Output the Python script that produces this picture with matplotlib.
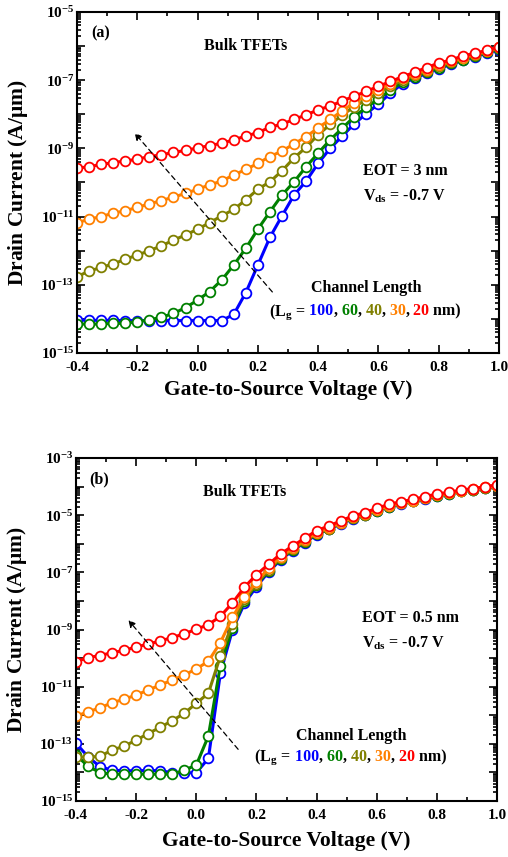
import numpy as np
import matplotlib
matplotlib.use('Agg')
import matplotlib.pyplot as plt
from matplotlib import ticker, transforms

# Fonts: bold Times-like everywhere
plt.rcParams['font.family'] = 'Liberation Serif'
plt.rcParams['font.weight'] = 'bold'
plt.rcParams['axes.labelweight'] = 'bold'
plt.rcParams['mathtext.fontset'] = 'custom'
plt.rcParams['mathtext.rm'] = 'Liberation Serif:bold'
plt.rcParams['mathtext.bf'] = 'Liberation Serif:bold'
plt.rcParams['mathtext.it'] = 'Liberation Serif:bold:italic'
plt.rcParams['axes.linewidth'] = 1.5

# Step 1: data (log10 of drain current in A/um), Vgs sweep -0.4 .. 1.0 V
vgs = np.linspace(-0.4, 1.0, 36)
lengths = ['100', '60', '40', '30', '20']
colors = ['#0000FF', '#008000', '#808000', '#FF8000', '#FF0000']

# (a) EOT = 3 nm
a_100 = [-14.03, -14.04, -14.04, -14.04, -14.05, -14.05, -14.05, -14.05, -14.05, -14.05,
         -14.05, -14.05, -14.05, -13.87, -13.23, -12.42, -11.61, -10.98, -10.37, -9.96,
         -9.44, -9.00, -8.64, -8.28, -7.98, -7.70, -7.38, -7.10, -6.94, -6.80,
         -6.66, -6.54, -6.42, -6.31, -6.20, -6.11]
a_60 = [-14.15, -14.15, -14.15, -14.13, -14.13, -14.08, -14.03, -13.95, -13.84, -13.67,
        -13.45, -13.20, -12.86, -12.42, -11.93, -11.37, -10.86, -10.37, -9.98, -9.54,
        -9.14, -8.75, -8.41, -8.07, -7.80, -7.55, -7.30, -7.05, -6.90, -6.76,
        -6.63, -6.51, -6.40, -6.29, -6.18, -6.08]
a_40 = [-12.76, -12.60, -12.49, -12.39, -12.25, -12.13, -12.00, -11.86, -11.69, -11.54,
        -11.37, -11.18, -10.98, -10.79, -10.51, -10.20, -9.98, -9.66, -9.28, -8.97,
        -8.60, -8.30, -8.02, -7.78, -7.57, -7.38, -7.18, -7.00, -6.86, -6.72,
        -6.59, -6.47, -6.36, -6.26, -6.16, -6.06]
a_30 = [-11.18, -11.08, -11.00, -10.90, -10.83, -10.73, -10.63, -10.53, -10.43, -10.32,
        -10.20, -10.07, -9.96, -9.78, -9.62, -9.44, -9.24, -9.08, -8.87, -8.66,
        -8.40, -8.15, -7.90, -7.66, -7.46, -7.28, -7.11, -6.95, -6.82, -6.69,
        -6.56, -6.45, -6.34, -6.24, -6.14, -6.04]
a_20 = [-9.58, -9.54, -9.47, -9.42, -9.37, -9.32, -9.24, -9.19, -9.12, -9.06,
        -8.99, -8.92, -8.85, -8.75, -8.64, -8.54, -8.38, -8.29, -8.15, -8.02,
        -7.87, -7.76, -7.61, -7.47, -7.33, -7.18, -7.04, -6.90, -6.77, -6.63,
        -6.50, -6.41, -6.29, -6.21, -6.13, -6.02]

# (b) EOT = 0.5 nm
b_100 = [-12.98, -13.45, -13.80, -13.92, -13.94, -13.94, -13.93, -13.94, -14.01, -14.01,
         -14.01, -13.51, -10.53, -9.02, -8.09, -7.50, -6.99, -6.56, -6.24, -5.96,
         -5.68, -5.50, -5.30, -5.12, -5.00, -4.85, -4.71, -4.60, -4.52, -4.42,
         -4.33, -4.25, -4.17, -4.12, -4.05, -3.99]
b_60 = [-13.39, -13.78, -14.01, -14.06, -14.06, -14.06, -14.06, -14.06, -14.06, -13.92,
        -13.74, -12.73, -10.26, -8.96, -8.00, -7.44, -6.95, -6.53, -6.22, -5.94,
        -5.66, -5.48, -5.29, -5.11, -4.99, -4.84, -4.70, -4.59, -4.51, -4.41,
        -4.32, -4.25, -4.17, -4.11, -4.04, -3.98]
b_40 = [-13.45, -13.47, -13.43, -13.22, -13.08, -12.87, -12.64, -12.42, -12.19, -11.93,
        -11.58, -11.23, -9.93, -8.79, -7.95, -7.40, -6.92, -6.50, -6.20, -5.92,
        -5.64, -5.47, -5.28, -5.10, -4.98, -4.83, -4.69, -4.58, -4.50, -4.40,
        -4.31, -4.24, -4.16, -4.11, -4.04, -3.98]
b_30 = [-12.03, -11.88, -11.74, -11.56, -11.44, -11.29, -11.12, -10.94, -10.77, -10.59,
        -10.38, -10.11, -9.46, -8.57, -7.87, -7.33, -6.86, -6.45, -6.16, -5.88,
        -5.61, -5.44, -5.26, -5.08, -4.96, -4.81, -4.67, -4.57, -4.49, -4.39,
        -4.30, -4.23, -4.15, -4.10, -4.03, -3.97]
b_20 = [-10.13, -9.98, -9.91, -9.81, -9.73, -9.61, -9.51, -9.40, -9.28, -9.15,
        -8.99, -8.83, -8.54, -8.07, -7.52, -7.08, -6.72, -6.36, -6.08, -5.81,
        -5.54, -5.38, -5.20, -5.03, -4.91, -4.76, -4.62, -4.53, -4.45, -4.35,
        -4.26, -4.20, -4.12, -4.07, -4.00, -3.94]


def color_text(ax, x, y, parts, size):
    # draw pieces of text one after another, each in its own colour
    fig = ax.figure
    r = fig.canvas.get_renderer()
    t = ax.transAxes
    for s, c in parts:
        txt = ax.text(x, y, s, color=c, transform=t, fontsize=size, va='baseline')
        txt.draw(r)
        w = txt.get_window_extent(r).width
        t = transforms.offset_copy(txt.get_transform(), x=w, units='dots')


def sci_label(v, pos):
    e = int(round(np.log10(v)))
    if e % 2 == 0:
        return ''
    return r'$\mathbf{10^{%d}}$' % e


def setup_panel(ax, ytop, tag, eot, arrow, legend_x, legend_y, chan_x, xlab_y):
    ax.set_yscale('log')
    ax.set_xlim(-0.4, 1.0)
    ax.set_ylim(1e-15, ytop)
    ax.xaxis.set_major_locator(ticker.MultipleLocator(0.2))
    ax.xaxis.set_minor_locator(ticker.MultipleLocator(0.1))
    ax.xaxis.set_major_formatter(ticker.FormatStrFormatter('%.1f'))
    ax.yaxis.set_major_locator(ticker.LogLocator(base=10, numticks=30))
    ax.yaxis.set_minor_locator(ticker.LogLocator(base=10, subs=np.arange(2, 10), numticks=30))
    ax.yaxis.set_major_formatter(ticker.FuncFormatter(sci_label))
    ax.yaxis.set_minor_formatter(ticker.NullFormatter())
    ax.tick_params(which='both', direction='in', top=True, right=True, labelsize=11, width=1.2)
    ax.tick_params(which='major', length=6)
    ax.tick_params(which='minor', length=3)
    ax.tick_params(axis='x', pad=5.5)
    ax.tick_params(axis='y', pad=2)
    ax.set_xlabel('Gate-to-Source Voltage (V)', fontsize=15.5)
    ax.set_ylabel(r'Drain Current (A/$\mathbf{\mu}$m)', fontsize=15.5)
    ax.yaxis.set_label_coords(-0.112, 0.5)
    ax.xaxis.set_label_coords(0.5, xlab_y)

    ax.text(0.055, 0.938, tag, transform=ax.transAxes, fontsize=11.5, ha='center', va='center')
    ax.text(0.40, 0.90, 'Bulk TFETs', transform=ax.transAxes, fontsize=11.5, ha='center', va='center')
    ax.text(0.678, 0.534, eot, transform=ax.transAxes, fontsize=11.5, ha='left', va='center')
    ax.text(0.678, 0.46, r'V$_{\mathbf{ds}}$ = -0.7 V', transform=ax.transAxes,
            fontsize=11.5, ha='left', va='center')
    ax.text(chan_x, 0.19, 'Channel Length', transform=ax.transAxes, fontsize=11.5,
            ha='center', va='center')
    parts = [(r'(L$_{\mathbf{g}}$ =', 'k')]
    for i, (L, c) in enumerate(zip(lengths, colors)):
        parts.append((' ' + L, c))
        if i < len(lengths) - 1:
            parts.append((',', 'k'))
    parts.append((' nm)', 'k'))
    color_text(ax, legend_x, legend_y, parts, 11.5)

    ax.annotate('', xy=arrow[0], xytext=arrow[1],
                arrowprops=dict(arrowstyle='-|>', linestyle=(0, (4, 3)), lw=0.9,
                                color='k', mutation_scale=10, shrinkA=0, shrinkB=0))


fig = plt.figure(figsize=(5.08, 8.57), dpi=100)
ax1 = fig.add_axes([0.1516, 0.5881, 0.8307, 0.398])
ax2 = fig.add_axes([0.1496, 0.0653, 0.8290, 0.4003])

# Step 2: curves
for vals, c in zip([a_100, a_60, a_40, a_30, a_20], colors):
    ax1.plot(vgs, 10 ** np.array(vals), '-o', color=c, lw=2.2, ms=7, mfc='white', mew=1.3)
for vals, c in zip([b_100, b_60, b_40, b_30, b_20], colors):
    ax2.plot(vgs, 10 ** np.array(vals), '-o', color=c, lw=2.2, ms=7, mfc='white', mew=1.3)

# Step 3: axes, labels and annotations
setup_panel(ax1, 1e-5, '(a)', 'EOT = 3 nm',
            ((-0.209, 10 ** -8.55), (0.248, 10 ** -13.21)), 0.455, 0.111, 0.685, -0.08)
setup_panel(ax2, 1e-3, '(b)', 'EOT = 0.5 nm',
            ((-0.226, 10 ** -8.67), (0.139, 10 ** -13.19)), 0.423, 0.117, 0.653, -0.088)

fig.savefig('out.png', dpi=100)
plt.close(fig)
